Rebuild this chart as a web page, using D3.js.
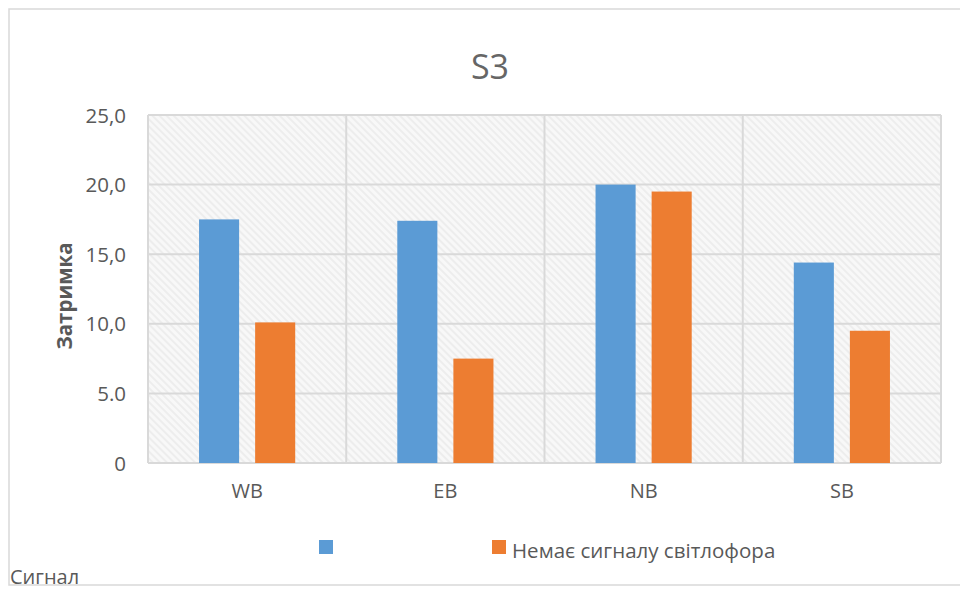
<!DOCTYPE html>
<html>
<head>
<meta charset="utf-8">
<script src="https://cdn.jsdelivr.net/npm/d3@7"></script>
<style>
  html, body { margin: 0; padding: 0; background: #fff; }
  svg { display: block; font-family: "Open Sans", "DejaVu Sans", sans-serif; }
</style>
</head>
<body>
<svg id="chart" width="960" height="589"></svg>
<script>
// Delay per approach, two series
const categories = ["WB", "EB", "NB", "SB"];
const seriesNames = ["Сигнал", "Немає сигналу світлофора"];
const signalValues = [17.5, 17.4, 20.0, 14.4];
const noSignalValues = [10.1, 7.5, 19.5, 9.5];
const yTickValues = [0, 5, 10, 15, 20, 25];
const yTickLabels = ["0", "5.0", "10,0", "15,0", "20,0", "25,0"];
const colors = ["#5b9bd5", "#ed7d31"];

const svg = d3.select("#chart");
const textColor = "#595959";
const gridColor = "#d9d9d9";

// Chart frame
svg.append("rect")
  .attr("x", 9).attr("y", 9).attr("width", 960).attr("height", 576)
  .attr("fill", "#fff").attr("stroke", gridColor).attr("stroke-width", 1.5);

// Hatched plot background
const defs = svg.append("defs");
const pat = defs.append("pattern")
  .attr("id", "hatch").attr("patternUnits", "userSpaceOnUse")
  .attr("width", 5).attr("height", 5)
  .attr("patternTransform", "rotate(-45)");
pat.append("rect").attr("width", 5).attr("height", 5).attr("fill", "#f8f8f8");
pat.append("rect").attr("width", 2).attr("height", 5).attr("fill", "#ededed");

const plot = { left: 148, right: 941, top: 115, bottom: 463 };

const x = d3.scaleBand().domain(categories).range([plot.left, plot.right]);
const xs = d3.scaleBand().domain(seriesNames).range([0, x.bandwidth()])
  .paddingInner(0.2857).paddingOuter(0.91);
const y = d3.scaleLinear().domain([0, 25]).range([plot.bottom, plot.top]);

svg.append("rect")
  .attr("x", plot.left).attr("y", plot.top)
  .attr("width", plot.right - plot.left).attr("height", plot.bottom - plot.top)
  .attr("fill", "url(#hatch)");

// Horizontal gridlines
svg.append("g").selectAll("line").data(yTickValues).join("line")
  .attr("x1", plot.left).attr("x2", plot.right)
  .attr("y1", d => y(d)).attr("y2", d => y(d))
  .attr("stroke", gridColor).attr("stroke-width", 2);

// Vertical category dividers
const dividers = categories.map(c => x(c)).concat([plot.right]);
svg.append("g").selectAll("line").data(dividers).join("line")
  .attr("x1", d => d).attr("x2", d => d)
  .attr("y1", plot.top).attr("y2", plot.bottom)
  .attr("stroke", gridColor).attr("stroke-width", 2);

// Bars
const seriesValues = [signalValues, noSignalValues];
seriesValues.forEach((vals, si) => {
  svg.append("g").selectAll("rect").data(categories).join("rect")
    .attr("x", (c) => x(c) + xs(seriesNames[si]))
    .attr("width", xs.bandwidth())
    .attr("y", (c, i) => y(vals[i]))
    .attr("height", (c, i) => y(0) - y(vals[i]))
    .attr("fill", colors[si]);
});

// Y axis labels
const yAxis = d3.axisLeft(y).tickValues(yTickValues)
  .tickFormat((d, i) => yTickLabels[i]).tickSize(0).tickPadding(22);
const yg = svg.append("g").attr("transform", `translate(${plot.left},0)`).call(yAxis);
yg.select(".domain").remove();
yg.selectAll("text").attr("fill", textColor).attr("font-size", 20.5)
  .attr("font-family", "Open Sans, sans-serif").attr("dy", "0.35em");

// X axis labels
const xAxis = d3.axisBottom(x).tickSize(0).tickPadding(21);
const xg = svg.append("g").attr("transform", `translate(0,${plot.bottom})`).call(xAxis);
xg.select(".domain").remove();
xg.selectAll("text").attr("fill", textColor).attr("font-size", 20)
  .attr("font-family", "Open Sans, sans-serif");

// Title
svg.append("text").attr("x", 490).attr("y", 79)
  .attr("text-anchor", "middle").attr("fill", "#666")
  .attr("font-size", 34).text("S3");

// Y axis title
svg.append("text")
  .attr("transform", "translate(72,296) rotate(-90)")
  .attr("text-anchor", "middle").attr("fill", textColor)
  .attr("font-size", 20.5).attr("font-weight", "bold").text("Затримка");

// Legend
svg.append("rect").attr("x", 319).attr("y", 540).attr("width", 14).attr("height", 14).attr("fill", colors[0]);
svg.append("rect").attr("x", 492).attr("y", 540).attr("width", 14).attr("height", 14).attr("fill", colors[1]);
svg.append("text").attr("x", 512).attr("y", 558).attr("fill", textColor)
  .attr("font-size", 20.5).text(seriesNames[1]);
svg.append("text").attr("x", 10).attr("y", 584).attr("fill", textColor)
  .attr("font-size", 20).text(seriesNames[0]);
</script>
</body>
</html>
